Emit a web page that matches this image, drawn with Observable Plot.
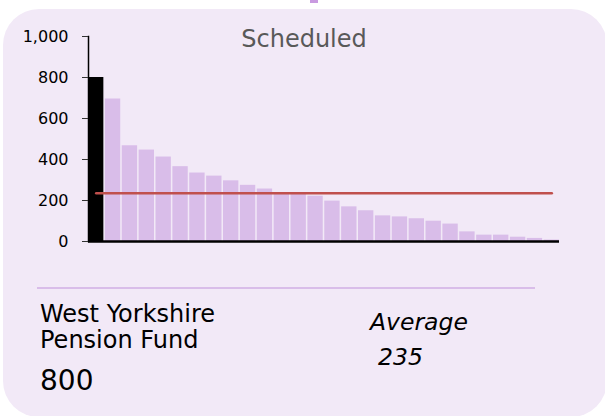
<!DOCTYPE html>
<html>
<head>
<meta charset="utf-8">
<script src="https://cdn.jsdelivr.net/npm/d3@7"></script>
<script src="https://cdn.jsdelivr.net/npm/@observablehq/plot@0.6"></script>
<style>
  html, body { margin: 0; padding: 0; background: #ffffff; }
  body { width: 605px; height: 416px; position: relative; overflow: hidden; font-family: "DejaVu Sans", Verdana, sans-serif; }
  #card { position: absolute; left: 3px; top: 9px; width: 604px; height: 408px; background: #f2e9f7; border-radius: 36px; }
  #knob { position: absolute; left: 310px; top: 0; width: 8px; height: 3px; background: #c99ae0; }
  #chart { position: absolute; left: 0; top: 0; }
  #chart svg text { font-size: 16px; fill: #000; }
  #title { position: absolute; left: 0; width: 608px; top: 25px; text-align: center; font-size: 24px; color: #595959; }
  #sep { position: absolute; left: 37px; width: 498px; top: 287px; height: 2px; background: #d9bde9; }
  #fund { position: absolute; left: 40px; top: 301px; font-size: 24px; line-height: 26px; color: #000; }
  #fundval { position: absolute; left: 40px; top: 364px; font-size: 28px; color: #000; }
  #avg { position: absolute; left: 370px; top: 308px; font-size: 23.5px; font-style: italic; color: #000; }
  #avgval { position: absolute; left: 378px; top: 343px; font-size: 23.5px; font-style: italic; color: #000; }
</style>
</head>
<body>
<div id="card"></div>
<div id="knob"></div>
<div id="chart"></div>
<div id="title"></div>
<div id="sep"></div>
<div id="fund"></div>
<div id="fundval"></div>
<div id="avg"></div>
<div id="avgval"></div>
<script>
const chartTitle = "Scheduled";
const highlightName = "West Yorkshire Pension Fund";
const funds = [
  "West Yorkshire Pension Fund", "Fund 2", "Fund 3", "Fund 4", "Fund 5", "Fund 6", "Fund 7",
  "Fund 8", "Fund 9", "Fund 10", "Fund 11", "Fund 12", "Fund 13", "Fund 14",
  "Fund 15", "Fund 16", "Fund 17", "Fund 18", "Fund 19", "Fund 20", "Fund 21",
  "Fund 22", "Fund 23", "Fund 24", "Fund 25", "Fund 26", "Fund 27", "Fund 28"
];
const values = [800, 695, 467, 446, 412, 365, 334, 319, 296, 274, 256, 237, 232, 221,
                197, 169, 150, 125, 120, 111, 99, 85, 47, 31, 31, 21, 15, 7];
const averageValue = 235;
const yTicks = [0, 200, 400, 600, 800, 1000];

const data = funds.map((f, i) => ({fund: f, value: values[i], highlight: f === highlightName}));
const avgLine = [{fund: funds[0], value: averageValue}, {fund: funds[funds.length - 1], value: averageValue}];

const plot = Plot.plot({
  width: 605,
  height: 260,
  marginLeft: 88,
  marginRight: 46,
  marginTop: 36,
  marginBottom: 19,
  style: {background: "transparent", fontFamily: "DejaVu Sans, Verdana, sans-serif", fontSize: "16px", color: "#000"},
  x: {domain: funds, paddingInner: 0.09, paddingOuter: 0, round: false, axis: null},
  y: {domain: [0, 1000]},
  marks: [
    Plot.barY(data, {x: "fund", y: "value", fill: d => d.highlight ? "#000000" : "#d9bde9"}),
    Plot.line(avgLine, {x: "fund", y: "value", stroke: "#c0504d", strokeWidth: 2.5}),
    Plot.ruleY([0], {stroke: "#000", strokeWidth: 2.5}),
    Plot.frame({anchor: "left", stroke: "#000", strokeWidth: 1.5}),
    Plot.axisY({ticks: yTicks, tickFormat: d3.format(","), tickSize: 6, tickPadding: 14, stroke: "#333", fill: "#000", label: null, fontSize: 16})
  ]
});
document.getElementById("chart").appendChild(plot);
document.getElementById("title").textContent = chartTitle;
document.getElementById("fund").innerHTML = "West Yorkshire<br>Pension Fund";
document.getElementById("fundval").textContent = d3.format(",")(values[funds.indexOf(highlightName)]);
document.getElementById("avg").textContent = "Average";
document.getElementById("avgval").textContent = String(averageValue);
</script>
</body>
</html>
